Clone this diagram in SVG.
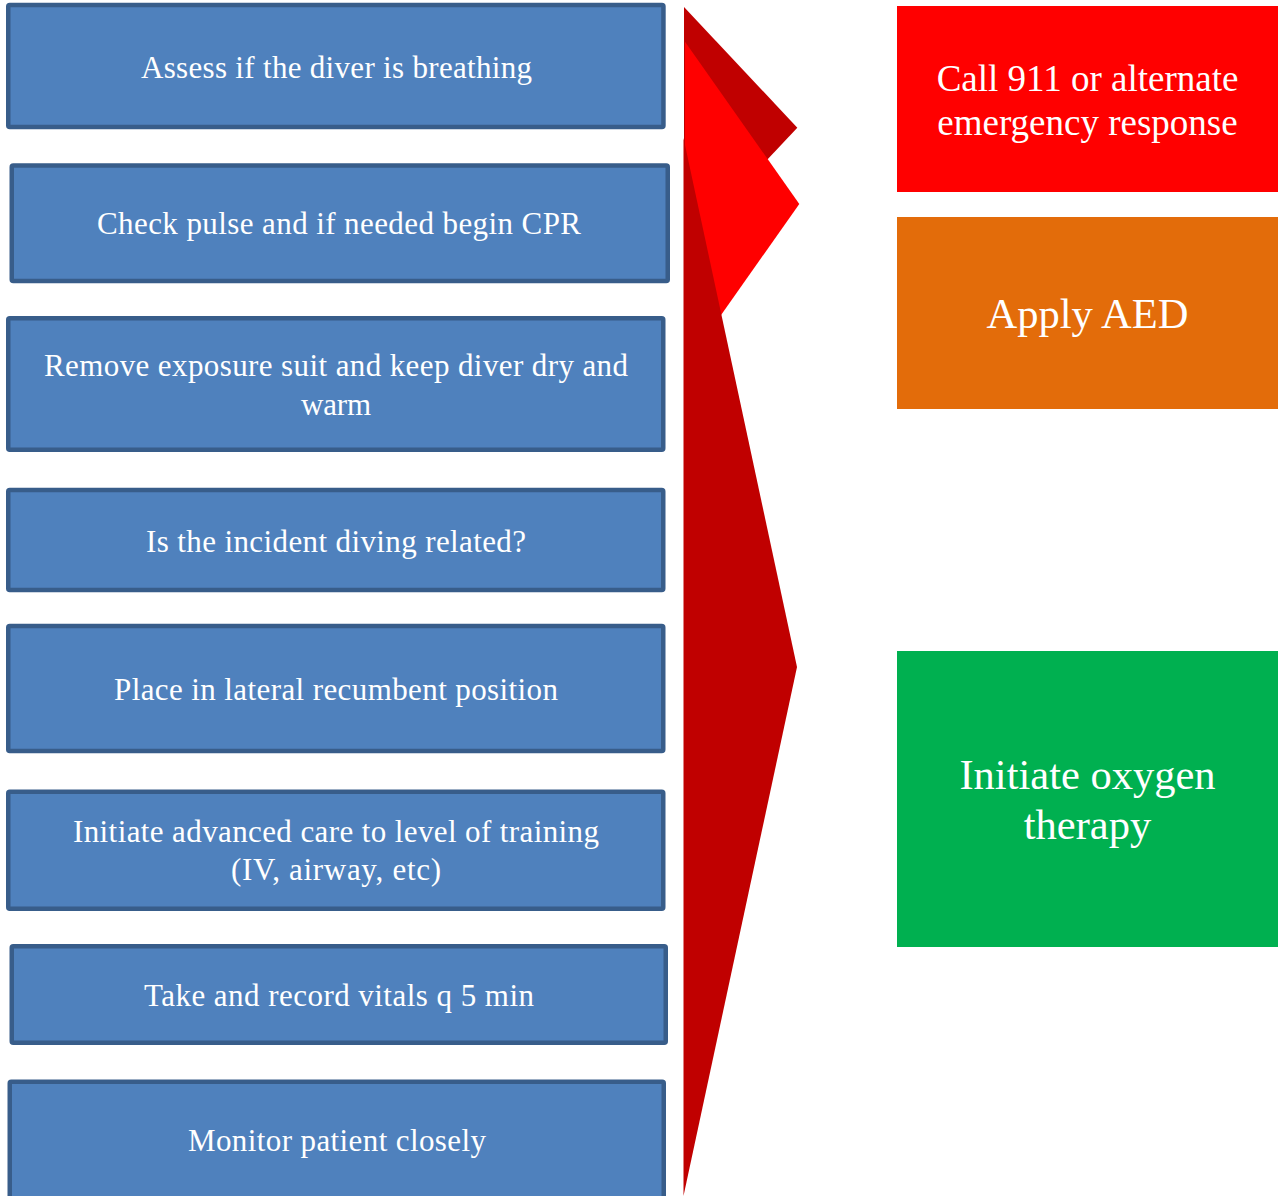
<svg xmlns="http://www.w3.org/2000/svg" width="1280" height="1196" viewBox="0 0 1280 1196">
<style>
.step rect{fill:#4F81BD;stroke:#385D8A;stroke-width:4.5}
.step text{font-family:"Liberation Serif","Times New Roman",serif;font-size:31px;fill:#FFFFFF;text-anchor:middle}
.act text{font-family:"Liberation Serif","Times New Roman",serif;fill:#FFFFFF;text-anchor:middle}
.dark{fill:#C00000}
.bright{fill:#FF0000}
</style>
<rect width="1280" height="1196" fill="#FFFFFF"/>
<g id="chevrons">
<polygon class="dark" points="684,7 797.3,127.7 684,248.5"/>
<polygon class="bright" points="685,41.7 799.3,204 685,366.3"/>
<polygon class="dark" points="683.5,138 797,667 683.5,1196"/>
</g>
<g id="step1" class="step"><rect x="8.25" y="5" width="655.2" height="122" rx="1.5"/><text x="336.5" y="77.5" textLength="391" lengthAdjust="spacing">Assess if the diver is breathing</text></g>
<g id="step2" class="step"><rect x="11.75" y="165.5" width="656" height="115.6" rx="1.5"/><text x="339" y="234" textLength="484" lengthAdjust="spacing">Check pulse and if needed begin CPR</text></g>
<g id="step3" class="step"><rect x="8.25" y="318.25" width="655" height="131.5" rx="1.5"/><text x="336" y="375.5" textLength="584" lengthAdjust="spacing">Remove exposure suit and keep diver dry and</text><text x="336" y="414.5" textLength="70" lengthAdjust="spacing">warm</text></g>
<g id="step4" class="step"><rect x="8.25" y="490" width="655" height="100" rx="1.5"/><text x="336" y="551.5" textLength="380" lengthAdjust="spacing">Is the incident diving related?</text></g>
<g id="step5" class="step"><rect x="8.25" y="626" width="655" height="125" rx="1.5"/><text x="336" y="699.5" textLength="444" lengthAdjust="spacing">Place in lateral recumbent position</text></g>
<g id="step6" class="step"><rect x="8.25" y="791.75" width="655" height="117" rx="1.5"/><text x="336" y="841.5" textLength="526" lengthAdjust="spacing">Initiate advanced care to level of training</text><text x="336" y="879.5" textLength="210" lengthAdjust="spacing">(IV, airway, etc)</text></g>
<g id="step7" class="step"><rect x="11.75" y="946.25" width="654" height="96.5" rx="1.5"/><text x="339" y="1005.5" textLength="390" lengthAdjust="spacing">Take and record vitals q 5 min</text></g>
<g id="step8" class="step"><rect x="9.75" y="1081.75" width="654" height="130" rx="1.5"/><text x="337" y="1151" textLength="298" lengthAdjust="spacing">Monitor patient closely</text></g>
<g id="call911" class="act"><rect x="897" y="6" width="381" height="186" fill="#FF0000"/><text x="1087.5" y="90.5" font-size="37">Call 911 or alternate</text><text x="1087.5" y="134.5" font-size="37">emergency response</text></g>
<g id="aed" class="act"><rect x="897" y="217" width="381" height="192" fill="#E36C0A"/><text x="1087.5" y="328.3" font-size="42.5">Apply AED</text></g>
<g id="oxygen" class="act"><rect x="897" y="651" width="381" height="296" fill="#00B050"/><text x="1087.5" y="789" font-size="42.5">Initiate oxygen</text><text x="1087.5" y="839" font-size="42.5">therapy</text></g>
</svg>
